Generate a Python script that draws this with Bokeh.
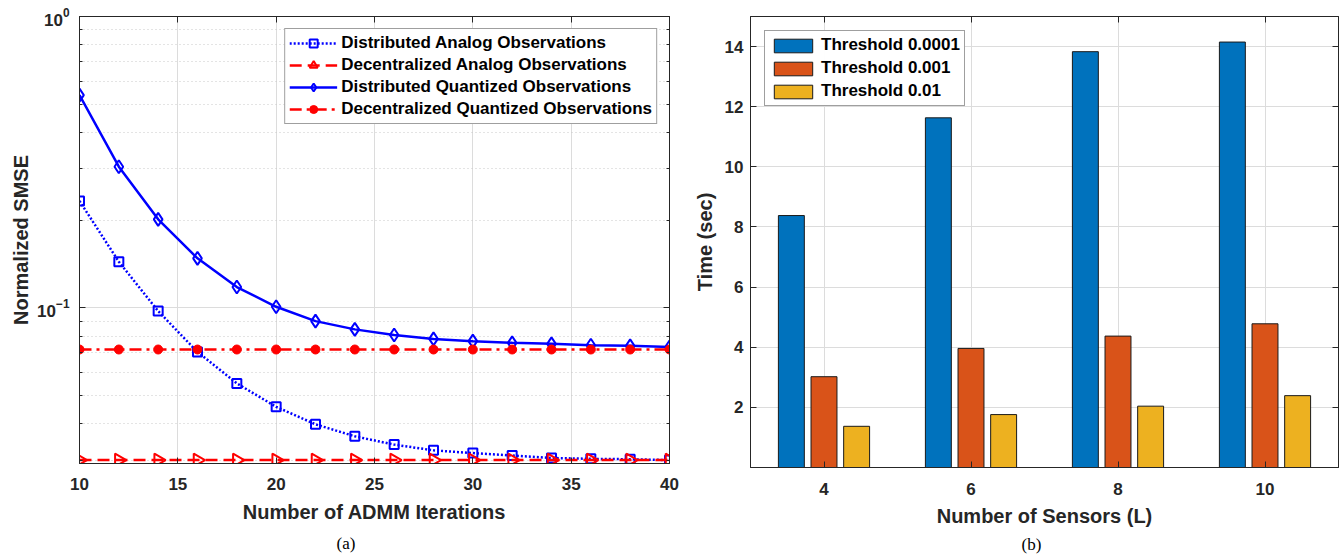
from bokeh.plotting import figure
from bokeh.layouts import row
from bokeh.models import (FixedTicker, LinearAxis, LogAxis, Legend, LegendItem,
                          Title, Range1d, ColumnDataSource, CustomJSTickFormatter)
from bokeh.transform import dodge
from bokeh.embed import file_html
from bokeh.resources import INLINE
import math

# ---------------- data: panel (a) ----------------
iterations = [10, 12, 14, 16, 18, 20, 22, 24, 26, 28, 30, 32, 34, 36, 38, 40]
dist_analog = [0.2326, 0.1439, 0.0974, 0.0705, 0.0550, 0.0457, 0.0398, 0.0362,
               0.0339, 0.0324, 0.0317, 0.0311, 0.0305, 0.0303, 0.0302, 0.0300]
decent_analog = [0.0300] * 16
dist_quant = [0.537, 0.305, 0.2012, 0.1478, 0.1178, 0.1008, 0.0900, 0.0843,
              0.0806, 0.0782, 0.0768, 0.0758, 0.0752, 0.0744, 0.0740, 0.0733]
decent_quant = [0.0719] * 16
series_names = ["Distributed Analog Observations",
                "Decentralized Analog Observations",
                "Distributed Quantized Observations",
                "Decentralized Quantized Observations"]
x_ticks_a = [10, 15, 20, 25, 30, 35, 40]
y_major_a = [0.1, 1.0]
y_minor_a = [0.03, 0.04, 0.05, 0.06, 0.07, 0.08, 0.09,
             0.2, 0.3, 0.4, 0.5, 0.6, 0.7, 0.8, 0.9]

# ---------------- data: panel (b) ----------------
sensors = [4, 6, 8, 10]
thr_0001 = [8.38, 11.63, 13.83, 14.15]
thr_001 = [3.02, 3.96, 4.37, 4.78]
thr_01 = [1.37, 1.76, 2.04, 2.39]
bar_labels = ["Threshold 0.0001", "Threshold 0.001", "Threshold 0.01"]
x_ticks_b = [4, 6, 8, 10]
y_ticks_b = [2, 4, 6, 8, 10, 12, 14]

AX = "#262626"
GRID = "#dcdcdc"
FONT = "Liberation Sans"


def style_axis(ax, label_size="17px"):
    ax.axis_line_color = AX
    ax.major_tick_line_color = AX
    ax.minor_tick_line_color = AX
    ax.major_tick_in = 6
    ax.major_tick_out = 0
    ax.minor_tick_in = 3
    ax.minor_tick_out = 0
    ax.major_label_text_font = FONT
    ax.major_label_text_font_style = "bold"
    ax.major_label_text_font_size = label_size
    ax.major_label_text_color = AX
    ax.axis_label_text_font = FONT
    ax.axis_label_text_font_style = "bold"
    ax.axis_label_text_font_size = "20px"
    ax.axis_label_text_color = AX


def blank_axis(ax):
    style_axis(ax, "2px")
    ax.formatter = CustomJSTickFormatter(code="return ''")
    ax.major_label_standoff = 0


# ================= panel (a) =================
p1 = figure(frame_width=590, frame_height=447, y_axis_type="log",
            x_range=Range1d(10, 40), y_range=Range1d(0.0292, 1.0),
            output_backend="svg", toolbar_location=None,
            min_border_left=79, min_border_right=11, min_border_top=16,
            min_border_bottom=94)
p1.outline_line_color = AX
p1.outline_line_alpha = 1.0

yt = FixedTicker(ticks=y_major_a, minor_ticks=y_minor_a)
xt = FixedTicker(ticks=x_ticks_a, minor_ticks=[])
p1.yaxis.ticker = yt
p1.xaxis.ticker = xt
p1.ygrid.ticker = yt
p1.xgrid.ticker = xt
style_axis(p1.xaxis[0])
style_axis(p1.yaxis[0])
p1.xaxis.axis_label = "Number of ADMM Iterations"
p1.yaxis.axis_label = "Normalized SMSE"
p1.xaxis.major_label_standoff = 14
p1.yaxis.major_label_standoff = 10
p1.xaxis.axis_label_standoff = 8
p1.yaxis.axis_label_standoff = 2

p1.xgrid.grid_line_color = GRID
p1.ygrid.grid_line_color = GRID
p1.ygrid.minor_grid_line_color = "#c8c8c8"
p1.ygrid.minor_grid_line_dash = "1 3"

ra = LogAxis(ticker=yt)
blank_axis(ra)
p1.add_layout(ra, "right")
ta = LinearAxis(ticker=xt)
blank_axis(ta)
p1.add_layout(ta, "above")

src = ColumnDataSource(dict(x=iterations, da=dist_analog, dea=decent_analog,
                            dq=dist_quant, deq=decent_quant))
BLUE = "#0000ff"
RED = "#ff0000"
LW = 2.5

l1 = p1.line("x", "da", source=src, color=BLUE, line_width=LW, line_dash="2 2")
m1 = p1.scatter("x", "da", source=src, marker="square", size=9,
                line_color=BLUE, fill_color=None, line_width=2)
l2 = p1.line("x", "dea", source=src, color=RED, line_width=LW, line_dash="12 6")
m2 = p1.scatter("x", "dea", source=src, marker="triangle", size=13,
                angle=-math.pi / 2, line_color=RED, fill_color=None, line_width=2)
l3 = p1.line("x", "dq", source=src, color=BLUE, line_width=LW)
m3 = p1.scatter("x", "dq", source=src, marker="diamond", size=13,
                line_color=BLUE, fill_color=None, line_width=2)
l4 = p1.line("x", "deq", source=src, color=RED, line_width=LW,
             line_dash="12 5 3 5")
m4 = p1.scatter("x", "deq", source=src, marker="circle", size=9,
                line_color=RED, fill_color=RED, line_width=1)

leg1 = Legend(items=[
    LegendItem(label=series_names[0], renderers=[l1, m1]),
    LegendItem(label=series_names[1], renderers=[l2, m2]),
    LegendItem(label=series_names[2], renderers=[l3, m3]),
    LegendItem(label=series_names[3], renderers=[l4, m4]),
], location="top_right")
leg1.margin = 12
leg1.padding = 4
leg1.spacing = 2
leg1.glyph_width = 48
leg1.glyph_height = 20
leg1.label_height = 20
leg1.label_standoff = 4
leg1.label_text_font = FONT
leg1.label_text_font_style = "bold"
leg1.label_text_font_size = "17px"
leg1.label_text_color = "black"
leg1.border_line_color = "#404040"
leg1.border_line_width = 1
leg1.background_fill_alpha = 1.0
p1.add_layout(leg1, "center")

cap1 = Title(text="(a)", align="left", offset=257, standoff=12,
             text_font="Liberation Serif", text_font_size="17px",
             text_font_style="normal", text_color="black")
p1.add_layout(cap1, "below")

# ================= panel (b) =================
p2 = figure(frame_width=588, frame_height=451,
            x_range=Range1d(3, 11), y_range=Range1d(0, 15),
            output_backend="svg", toolbar_location=None,
            min_border_left=70, min_border_right=2, min_border_top=16,
            min_border_bottom=90)
p2.outline_line_color = AX
xt2 = FixedTicker(ticks=x_ticks_b, minor_ticks=[])
yt2 = FixedTicker(ticks=y_ticks_b, minor_ticks=[])
p2.xaxis.ticker = xt2
p2.yaxis.ticker = yt2
p2.xgrid.ticker = xt2
p2.ygrid.ticker = yt2
style_axis(p2.xaxis[0])
style_axis(p2.yaxis[0])
p2.xaxis.axis_label = "Number of Sensors (L)"
p2.yaxis.axis_label = "Time (sec)"
p2.xaxis.major_label_standoff = 15
p2.yaxis.major_label_standoff = 7
p2.xaxis.axis_label_standoff = 7
p2.yaxis.axis_label_standoff = 6
p2.xgrid.grid_line_color = GRID
p2.ygrid.grid_line_color = GRID

ra2 = LinearAxis(ticker=yt2)
blank_axis(ra2)
p2.add_layout(ra2, "right")
ta2 = LinearAxis(ticker=xt2)
blank_axis(ta2)
p2.add_layout(ta2, "above")

src2 = ColumnDataSource(dict(x=sensors, a=thr_0001, b=thr_001, c=thr_01))
W = 0.353
b1 = p2.vbar(x=dodge("x", -0.444, range=p2.x_range), top="a", width=W,
             source=src2, fill_color="#0072BD", line_color="#1a1a1a", line_width=1)
b2 = p2.vbar(x=dodge("x", 0.0, range=p2.x_range), top="b", width=W,
             source=src2, fill_color="#D95319", line_color="#1a1a1a", line_width=1)
b3 = p2.vbar(x=dodge("x", 0.444, range=p2.x_range), top="c", width=W,
             source=src2, fill_color="#EDB120", line_color="#1a1a1a", line_width=1)

leg2 = Legend(items=[
    LegendItem(label=bar_labels[0], renderers=[b1]),
    LegendItem(label=bar_labels[1], renderers=[b2]),
    LegendItem(label=bar_labels[2], renderers=[b3]),
], location="top_left")
leg2.margin = 14
leg2.padding = 4
leg2.spacing = 3
leg2.glyph_width = 48
leg2.glyph_height = 17
leg2.label_height = 20
leg2.label_standoff = 4
leg2.label_text_font = FONT
leg2.label_text_font_style = "bold"
leg2.label_text_font_size = "17px"
leg2.label_text_color = "black"
leg2.border_line_color = "#404040"
leg2.border_line_width = 1
p2.add_layout(leg2, "center")

cap2 = Title(text="(b)", align="left", offset=271, standoff=6,
             text_font="Liberation Serif", text_font_size="17px",
             text_font_style="normal", text_color="black")
p2.add_layout(cap2, "below")

layout = row(p1, p2, spacing=0)
open("out.html", "w").write(file_html(layout, INLINE))
